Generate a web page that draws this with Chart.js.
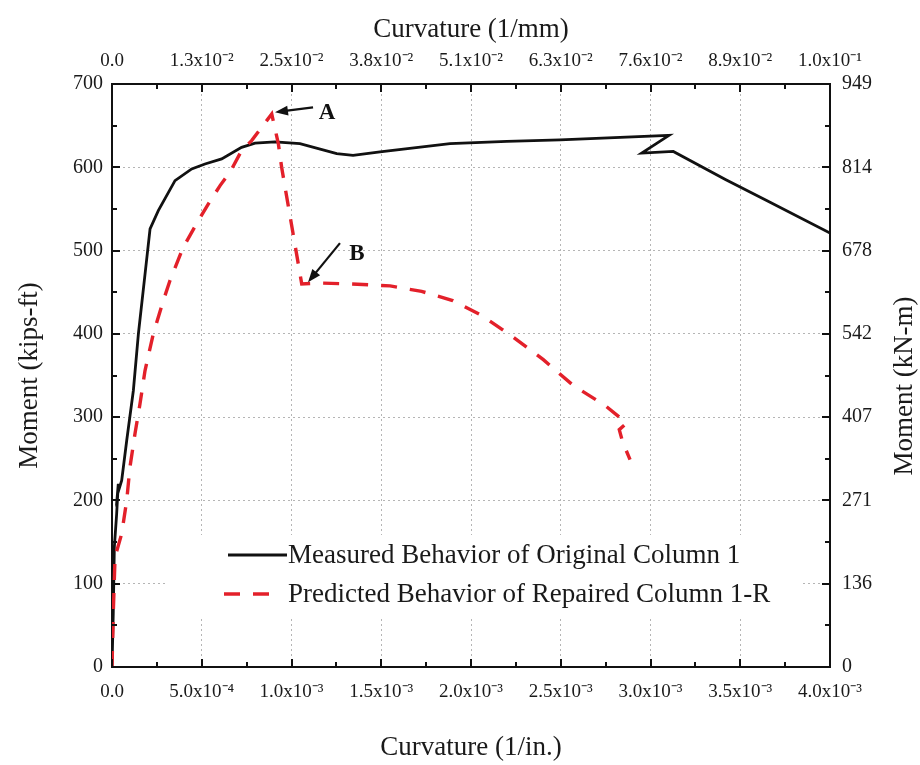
<!DOCTYPE html>
<html>
<head>
<meta charset="utf-8">
<script src="https://cdn.jsdelivr.net/npm/chart.js@4/dist/chart.umd.min.js"></script>
<style>
  html, body { margin: 0; padding: 0; background: #ffffff; }
  #wrap { width: 920px; height: 765px; }
</style>
</head>
<body>
<div id="wrap"><canvas id="c" width="920" height="765"></canvas></div>
<script>
// ---- data ----
const measuredCurvature = [0, 0.000007, 0.000013, 0.000026, 0.000035, 0.000030, 0.000054, 0.000082, 0.000119, 0.000147, 0.000180, 0.000212, 0.000258, 0.000351, 0.000444, 0.000518, 0.000611, 0.000722, 0.000797, 0.000908, 0.001047, 0.001252, 0.001343, 0.001493, 0.001883, 0.002200, 0.002496, 0.003103, 0.002951, 0.003127, 0.003420, 0.003647, 0.004000];
const measuredMoment    = [0, 64, 144, 184, 220, 207, 224, 272, 332, 400, 464, 526, 548, 584, 598, 604, 610, 624, 629, 630.5, 628.4, 616.4, 614.4, 618.4, 628.4, 631, 633, 638.4, 617, 619, 585, 560, 521];

const predictedCurvature = [0, 0.000007, 0.000017, 0.000054, 0.000082, 0.000100, 0.000128, 0.000156, 0.000184, 0.000230, 0.000286, 0.000323, 0.000397, 0.000481, 0.000537, 0.000602, 0.000657, 0.000722, 0.000778, 0.000862, 0.000890, 0.000927, 0.000945, 0.001057, 0.001159, 0.001326, 0.001549, 0.001725, 0.001898, 0.002060, 0.002236, 0.002403, 0.002570, 0.002747, 0.002867, 0.002826, 0.002845, 0.002886];
const predictedMoment    = [0, 64, 132, 160, 200, 240, 280, 316, 356, 400, 440, 464, 504, 536, 556, 578, 594, 620, 632, 656, 664, 628, 600, 460, 461, 460, 457.6, 451, 440, 422, 396, 369, 338, 314, 293, 285, 270, 249];

const bottomTickLabels = ['0.0', '5.0x10\u207B\u2074', '1.0x10\u207B\u00B3', '1.5x10\u207B\u00B3', '2.0x10\u207B\u00B3', '2.5x10\u207B\u00B3', '3.0x10\u207B\u00B3', '3.5x10\u207B\u00B3', '4.0x10\u207B\u00B3'];
const topTickLabels    = ['0.0', '1.3x10\u207B\u00B2', '2.5x10\u207B\u00B2', '3.8x10\u207B\u00B2', '5.1x10\u207B\u00B2', '6.3x10\u207B\u00B2', '7.6x10\u207B\u00B2', '8.9x10\u207B\u00B2', '1.0x10\u207B\u00B9'];
const leftTickLabels   = ['0', '100', '200', '300', '400', '500', '600', '700'];
const rightTickLabels  = ['0', '136', '271', '407', '542', '678', '814', '949'];

const seriesNames = ['Measured Behavior of Original Column 1', 'Predicted Behavior of Repaired Column 1-R'];

// ---- build ----
const FONT = "'Liberation Serif', 'Times New Roman', serif";
const X_STEP = 0.0005, Y_STEP = 100;
const toPts = (xs, ys) => xs.map((x, i) => ({ x: x, y: ys[i] }));

const insideTicks = {
  id: 'insideTicks',
  afterDraw(chart) {
    const ctx = chart.ctx, a = chart.chartArea;
    const sx = chart.scales.x, sy = chart.scales.y;
    ctx.save();
    ctx.strokeStyle = '#111';
    ctx.lineWidth = 2;
    ctx.beginPath();
    for (let i = 0; i <= 16; i++) {
      const v = i * X_STEP / 2;
      const px = Math.round(sx.getPixelForValue(v));
      const len = i % 2 === 0 ? 8 : 5;
      ctx.moveTo(px, a.bottom); ctx.lineTo(px, a.bottom - len);
      ctx.moveTo(px, a.top); ctx.lineTo(px, a.top + len);
    }
    for (let i = 0; i <= 14; i++) {
      const v = i * Y_STEP / 2;
      const py = Math.round(sy.getPixelForValue(v));
      const len = i % 2 === 0 ? 8 : 5;
      ctx.moveTo(a.left, py); ctx.lineTo(a.left + len, py);
      ctx.moveTo(a.right, py); ctx.lineTo(a.right - len, py);
    }
    ctx.stroke();
    ctx.restore();
  }
};

const legendAndNotes = {
  id: 'legendAndNotes',
  afterDatasetsDraw(chart) {
    const ctx = chart.ctx;
    const sx = chart.scales.x, sy = chart.scales.y;
    ctx.save();
    // legend
    ctx.fillStyle = '#ffffff';
    ctx.fillRect(165, 535, 635, 82);
    const ds = chart.data.datasets;
    ctx.font = "27px " + FONT;
    ctx.textBaseline = 'middle';
    ctx.textAlign = 'left';
    const rows = [555, 594];
    ds.forEach((d, i) => {
      ctx.save();
      ctx.strokeStyle = d.borderColor;
      ctx.lineWidth = d.borderWidth;
      ctx.setLineDash(d.borderDash || []);
      ctx.beginPath();
      ctx.moveTo(i === 0 ? 228 : 224, rows[i]);
      ctx.lineTo(i === 0 ? 287 : 276, rows[i]);
      ctx.stroke();
      ctx.restore();
      ctx.fillStyle = '#1a1a1a';
      ctx.fillText(d.label, 288, rows[i] + 1);
    });
    // arrows + labels A / B
    const arrow = (x1, y1, x2, y2) => {
      const p1 = [sx.getPixelForValue(x1), sy.getPixelForValue(y1)];
      const p2 = [sx.getPixelForValue(x2), sy.getPixelForValue(y2)];
      const ang = Math.atan2(p2[1] - p1[1], p2[0] - p1[0]);
      const hl = 13, hw = 5;
      ctx.strokeStyle = '#111'; ctx.fillStyle = '#111'; ctx.lineWidth = 2.2;
      ctx.beginPath();
      ctx.moveTo(p1[0], p1[1]);
      ctx.lineTo(p2[0] - Math.cos(ang) * hl * 0.8, p2[1] - Math.sin(ang) * hl * 0.8);
      ctx.stroke();
      ctx.beginPath();
      ctx.moveTo(p2[0], p2[1]);
      ctx.lineTo(p2[0] - Math.cos(ang) * hl - Math.sin(ang) * hw, p2[1] - Math.sin(ang) * hl + Math.cos(ang) * hw);
      ctx.lineTo(p2[0] - Math.cos(ang) * hl + Math.sin(ang) * hw, p2[1] - Math.sin(ang) * hl - Math.cos(ang) * hw);
      ctx.closePath();
      ctx.fill();
    };
    arrow(0.00112, 672, 0.000908, 666);
    arrow(0.00127, 509, 0.001092, 462);
    ctx.font = "bold 23px " + FONT;
    ctx.textAlign = 'center';
    ctx.fillStyle = '#111';
    ctx.fillText('A', sx.getPixelForValue(0.001198), sy.getPixelForValue(665));
    ctx.fillText('B', sx.getPixelForValue(0.001365), sy.getPixelForValue(496));
    // right axis title (reads bottom-to-top)
    ctx.font = "27px " + FONT;
    ctx.fillStyle = '#1a1a1a';
    ctx.translate(905, 386);
    ctx.rotate(-Math.PI / 2);
    ctx.textAlign = 'center';
    ctx.textBaseline = 'middle';
    ctx.fillText('Moment (kN-m)', 0, 0);
    ctx.restore();
  }
};

const gridCommon = { color: '#b5b5b5', lineWidth: 1, drawTicks: false };
const borderCommon = { display: true, color: '#111', width: 2, dash: [2, 3] };

new Chart(document.getElementById('c'), {
  type: 'scatter',
  data: {
    datasets: [
      {
        label: seriesNames[0],
        data: toPts(measuredCurvature, measuredMoment),
        showLine: true, borderColor: '#111111', borderWidth: 2.8,
        pointRadius: 0, tension: 0, order: 1, fill: false
      },
      {
        label: seriesNames[1],
        data: toPts(predictedCurvature, predictedMoment),
        showLine: true, borderColor: '#e3202a', borderWidth: 3.4, borderDash: [16, 13],
        pointRadius: 0, tension: 0, order: 0, fill: false
      }
    ]
  },
  options: {
    responsive: false,
    animation: false,
    devicePixelRatio: 1,
    layout: { padding: 0 },
    plugins: { legend: { display: false }, tooltip: { enabled: false } },
    scales: {
      x: {
        type: 'linear', position: 'bottom', min: 0, max: 0.004,
        afterFit: s => { s.height = 98; },
        grid: Object.assign({}, gridCommon),
        border: Object.assign({}, borderCommon),
        ticks: {
          stepSize: X_STEP, autoSkip: false, maxRotation: 0, padding: 14,
          color: '#1a1a1a', font: { family: FONT, size: 19 },
          callback: v => bottomTickLabels[Math.round(v / X_STEP)]
        },
        title: { display: true, text: 'Curvature (1/in.)', color: '#1a1a1a', font: { family: FONT, size: 27 }, padding: { top: 0, bottom: 1 } }
      },
      x2: {
        type: 'linear', position: 'top', min: 0, max: 0.004,
        afterFit: s => { s.height = 84; },
        grid: Object.assign({}, gridCommon, { drawOnChartArea: false }),
        border: Object.assign({}, borderCommon),
        ticks: {
          stepSize: X_STEP, autoSkip: false, maxRotation: 0, padding: 12,
          color: '#1a1a1a', font: { family: FONT, size: 19 },
          callback: v => topTickLabels[Math.round(v / X_STEP)]
        },
        title: { display: true, text: 'Curvature (1/mm)', color: '#1a1a1a', font: { family: FONT, size: 27 }, padding: { top: 14, bottom: 0 } }
      },
      y: {
        type: 'linear', position: 'left', min: 0, max: 700,
        afterFit: s => { s.width = 112; },
        grid: Object.assign({}, gridCommon),
        border: Object.assign({}, borderCommon),
        ticks: {
          stepSize: Y_STEP, autoSkip: false, padding: 9,
          color: '#1a1a1a', font: { family: FONT, size: 20 },
          callback: v => leftTickLabels[Math.round(v / Y_STEP)]
        },
        title: { display: true, text: 'Moment (kips-ft)', color: '#1a1a1a', font: { family: FONT, size: 27 }, padding: { top: 14, bottom: 0 } }
      },
      y2: {
        type: 'linear', position: 'right', min: 0, max: 700,
        afterFit: s => { s.width = 90; },
        grid: Object.assign({}, gridCommon, { drawOnChartArea: false }),
        border: Object.assign({}, borderCommon),
        ticks: {
          stepSize: Y_STEP, autoSkip: false, padding: 12,
          color: '#1a1a1a', font: { family: FONT, size: 20 },
          callback: v => rightTickLabels[Math.round(v / Y_STEP)]
        }
      }
    }
  },
  plugins: [insideTicks, legendAndNotes]
});
</script>
</body>
</html>
